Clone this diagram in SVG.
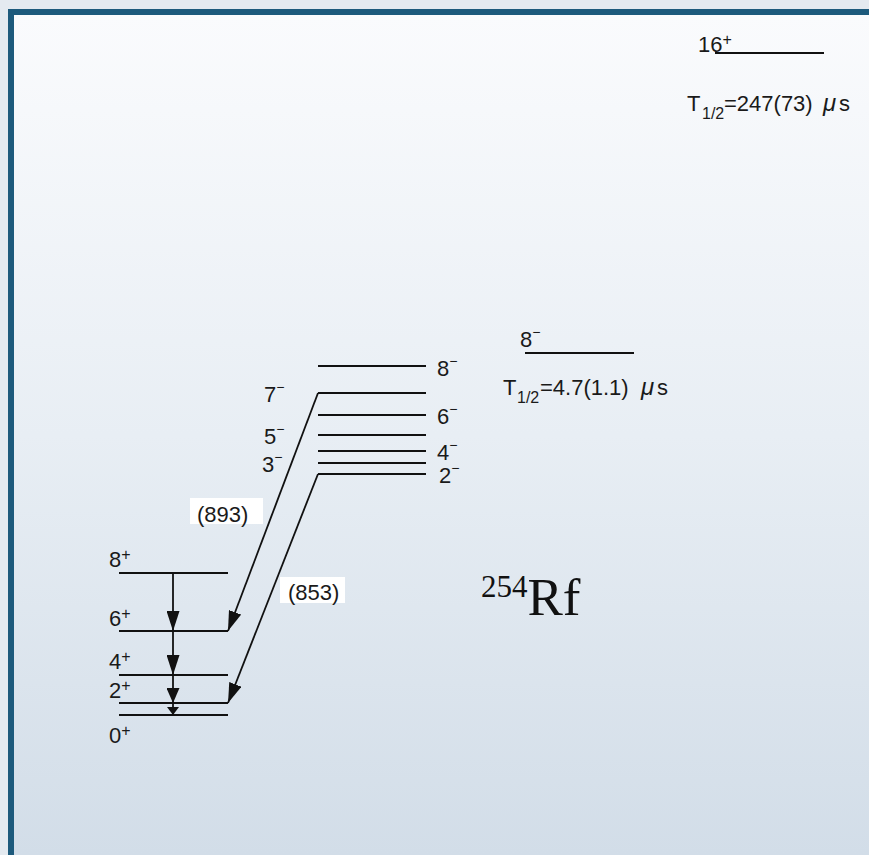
<svg xmlns="http://www.w3.org/2000/svg" width="869" height="855" viewBox="0 0 869 855">
<defs>
<linearGradient id="bg" x1="0" y1="0" x2="0" y2="1">
<stop offset="0" stop-color="#fafbfd"/>
<stop offset="0.5" stop-color="#e8eef4"/>
<stop offset="1" stop-color="#d2dde8"/>
</linearGradient>
<marker id="arr" markerUnits="userSpaceOnUse" markerWidth="20" markerHeight="13" refX="20" refY="6.5" orient="auto"><path d="M0,0 L20,6.5 L0,13 z" fill="#111"/></marker>
<marker id="arrM" markerUnits="userSpaceOnUse" markerWidth="15" markerHeight="13" refX="15" refY="6.5" orient="auto"><path d="M0,0 L15,6.5 L0,13 z" fill="#111"/></marker>
<marker id="arrS" markerUnits="userSpaceOnUse" markerWidth="8" markerHeight="12" refX="8" refY="6" orient="auto"><path d="M0,0 L8,6 L0,12 z" fill="#111"/></marker>
</defs>
<style>
.lv{stroke:#111;stroke-width:1.8;fill:none}
.tx{font-family:"Liberation Sans",Arial,sans-serif;font-size:22px;fill:#1a1a1a}
.sp{font-size:16px}
.sm{font-size:14px}
.cn{stroke:#111;stroke-width:1.8;fill:none}
.box{fill:#ffffff}
</style>
<rect x="0" y="0" width="869" height="855" fill="#e4eaf0"/>
<rect x="14" y="15" width="855" height="840" fill="url(#bg)"/>
<rect x="8" y="9" width="861" height="6" fill="#1d5a7c"/>
<rect x="8" y="9" width="6" height="846" fill="#1d5a7c"/>

<g id="iso16">
<line class="lv" x1="715" y1="53" x2="824" y2="53"/>
<text class="tx" x="698" y="52">16<tspan class="sp" dy="-7">+</tspan></text>
<text class="tx" y="111"><tspan x="687">T</tspan><tspan class="sp" x="702" dy="8">1/2</tspan><tspan x="724" dy="-8">=247(73)</tspan><tspan x="823" font-style="italic" font-size="24">μ</tspan><tspan x="839">s</tspan></text>
</g>

<g id="iso8">
<line class="lv" x1="525" y1="353" x2="634" y2="353"/>
<text class="tx" x="520" y="347">8<tspan class="sm" dy="-10">−</tspan></text>
<text class="tx" y="395"><tspan x="503">T</tspan><tspan class="sp" x="517" dy="8">1/2</tspan><tspan x="540" dy="-8">=4.7(1.1)</tspan><tspan x="641" font-style="italic" font-size="24">μ</tspan><tspan x="657">s</tspan></text>
</g>

<g id="b8m"><line class="lv" x1="318" y1="366" x2="426" y2="366"/><text class="tx" x="437" y="376">8<tspan class="sm" dy="-10">−</tspan></text></g>
<g id="b7m"><line class="lv" x1="318" y1="393" x2="426" y2="393"/><text class="tx" x="264" y="402">7<tspan class="sm" dy="-10">−</tspan></text></g>
<g id="b6m"><line class="lv" x1="318" y1="415" x2="426" y2="415"/><text class="tx" x="437" y="424">6<tspan class="sm" dy="-10">−</tspan></text></g>
<g id="b5m"><line class="lv" x1="318" y1="435" x2="426" y2="435"/><text class="tx" x="264" y="444">5<tspan class="sm" dy="-10">−</tspan></text></g>
<g id="b4m"><line class="lv" x1="318" y1="451" x2="426" y2="451"/><text class="tx" x="437" y="460">4<tspan class="sm" dy="-10">−</tspan></text></g>
<g id="b3m"><line class="lv" x1="318" y1="463" x2="426" y2="463"/><text class="tx" x="262" y="472">3<tspan class="sm" dy="-10">−</tspan></text></g>
<g id="b2m"><line class="lv" x1="318" y1="474" x2="426" y2="474"/><text class="tx" x="439" y="483">2<tspan class="sm" dy="-10">−</tspan></text></g>

<g id="g8p"><line class="lv" x1="119" y1="573" x2="228" y2="573"/><text class="tx" x="109" y="567">8<tspan class="sp" dy="-7">+</tspan></text></g>
<g id="g6p"><line class="lv" x1="119" y1="631" x2="228" y2="631"/><text class="tx" x="109" y="626">6<tspan class="sp" dy="-7">+</tspan></text></g>
<g id="g4p"><line class="lv" x1="119" y1="675" x2="228" y2="675"/><text class="tx" x="109" y="669">4<tspan class="sp" dy="-7">+</tspan></text></g>
<g id="g2p"><line class="lv" x1="119" y1="703" x2="228" y2="703"/><text class="tx" x="109" y="698">2<tspan class="sp" dy="-7">+</tspan></text></g>
<g id="g0p"><line class="lv" x1="119" y1="715" x2="228" y2="715"/><text class="tx" x="109" y="743">0<tspan class="sp" dy="-7">+</tspan></text></g>

<g id="connectors">
<line class="cn" x1="173" y1="573" x2="173" y2="631" marker-end="url(#arr)"/>
<line class="cn" x1="173" y1="631" x2="173" y2="675" marker-end="url(#arr)"/>
<line class="cn" x1="173" y1="675" x2="173" y2="703" marker-end="url(#arrM)"/>
<line class="cn" x1="173" y1="703" x2="173" y2="715" marker-end="url(#arrS)"/>
<line class="cn" x1="318" y1="393" x2="228" y2="631" marker-end="url(#arr)"/>
<line class="cn" x1="318" y1="474" x2="228" y2="703" marker-end="url(#arr)"/>
</g>

<g id="lbl893">
<rect class="box" x="190" y="498" width="73" height="26"/>
<text class="tx" x="197" y="522" font-size="23">(893)</text>
</g>
<g id="lbl853">
<rect class="box" x="280" y="577" width="65" height="26"/>
<text class="tx" x="288" y="600" font-size="23">(853)</text>
</g>

<g id="nuclide">
<text x="481" y="615" font-family="'Liberation Serif','Times New Roman',serif" fill="#111"><tspan font-size="31" dy="-18">254</tspan><tspan font-size="53" dy="18">Rf</tspan></text>
</g>
</svg>
